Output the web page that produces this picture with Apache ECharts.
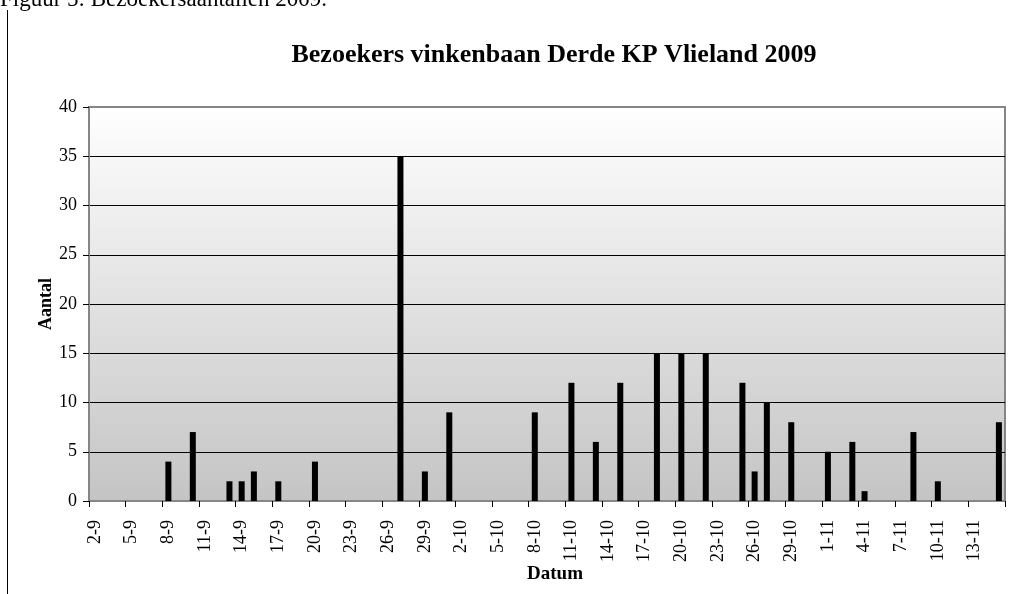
<!DOCTYPE html>
<html>
<head>
<meta charset="utf-8">
<script src="https://cdn.jsdelivr.net/npm/echarts@6/dist/echarts.min.js"></script>
<style>
  html, body { margin: 0; padding: 0; background: #fff; }
  #chart { width: 1030px; height: 594px; }
</style>
</head>
<body>
<div id="chart"></div>
<script>
'use strict';

// dagen van 2-9 t/m 15-11
const datums = [
  '2-9', '3-9', '4-9', '5-9', '6-9', '7-9', '8-9', '9-9', '10-9', '11-9',
  '12-9', '13-9', '14-9', '15-9', '16-9', '17-9', '18-9', '19-9', '20-9', '21-9',
  '22-9', '23-9', '24-9', '25-9', '26-9', '27-9', '28-9', '29-9', '30-9', '1-10',
  '2-10', '3-10', '4-10', '5-10', '6-10', '7-10', '8-10', '9-10', '10-10', '11-10',
  '12-10', '13-10', '14-10', '15-10', '16-10', '17-10', '18-10', '19-10', '20-10', '21-10',
  '22-10', '23-10', '24-10', '25-10', '26-10', '27-10', '28-10', '29-10', '30-10', '31-10',
  '1-11', '2-11', '3-11', '4-11', '5-11', '6-11', '7-11', '8-11', '9-11', '10-11',
  '11-11', '12-11', '13-11', '14-11', '15-11'
];

// telgegevens, alleen de dagen met bezoekers
const telDagen = ['8-9', '10-9', '13-9', '14-9', '15-9', '17-9', '20-9', '27-9', '29-9', '1-10',
  '8-10', '11-10', '13-10', '15-10', '18-10', '20-10', '22-10', '25-10', '26-10', '27-10',
  '29-10', '1-11', '3-11', '4-11', '8-11', '10-11', '15-11'];
const aantallen = [4, 7, 2, 2, 3, 2, 4, 35, 3, 9,
  9, 12, 6, 12, 15, 15, 15, 12, 3, 10,
  8, 5, 6, 1, 7, 2, 8];

const yTicks = ['0', '5', '10', '15', '20', '25', '30', '35', '40'];

const waarden = datums.map(function (d) {
  const i = telDagen.indexOf(d);
  return i >= 0 ? aantallen[i] : null;
});

const serif = '"Liberation Serif", "DejaVu Serif", serif';

const chart = echarts.init(document.getElementById('chart'), null, { renderer: 'canvas' });

const option = {
  backgroundColor: '#fff',
  animation: false,
  title: {
    text: 'Bezoekers vinkenbaan Derde KP Vlieland 2009',
    left: 549,
    textAlign: 'center',
    top: 37,
    textStyle: { fontFamily: serif, fontSize: 26, fontWeight: 'bold', color: '#000' }
  },
  graphic: [
    {
      type: 'text',
      left: 0,
      top: -12,
      style: { text: 'Figuur 5: Bezoekersaantallen 2009.', font: '23px ' + serif, fill: '#000' }
    },
    {
      type: 'line',
      shape: { x1: 7.5, y1: 10, x2: 7.5, y2: 594 },
      style: { stroke: '#000', lineWidth: 1 }
    }
  ],
  grid: {
    left: 89,
    right: 25,
    top: 107,
    bottom: 93,
    show: true,
    borderColor: '#868686',
    borderWidth: 2,
    backgroundColor: {
      type: 'linear', x: 0, y: 0, x2: 0, y2: 1,
      colorStops: [
        { offset: 0, color: '#ffffff' },
        { offset: 1, color: '#c4c4c4' }
      ]
    }
  },
  xAxis: {
    type: 'category',
    data: datums,
    name: 'Datum',
    nameLocation: 'middle',
    nameGap: 64,
    nameMoveOverlap: false,
    nameTextStyle: { fontFamily: serif, fontSize: 19, fontWeight: 'bold', color: '#000', padding: [0, 0, 0, 16] },
    axisLine: { show: true, lineStyle: { color: '#868686', width: 2 } },
    axisTick: { show: true, interval: 2, length: 6, lineStyle: { color: '#000' } },
    axisLabel: {
      interval: 2,
      rotate: 90,
      margin: 19,
      fontFamily: serif,
      fontSize: 18,
      color: '#000'
    },
    splitLine: { show: false }
  },
  yAxis: {
    type: 'value',
    min: 0,
    max: 40,
    interval: 5,
    name: 'Aantal',
    nameLocation: 'middle',
    nameRotate: 90,
    nameGap: 34,
    nameMoveOverlap: false,
    nameTextStyle: { fontFamily: serif, fontSize: 18, fontWeight: 'bold', color: '#000' },
    axisLine: { show: true, lineStyle: { color: '#868686', width: 2 } },
    axisTick: { show: true, length: 6, lineStyle: { color: '#000' } },
    axisLabel: {
      margin: 12,
      fontFamily: serif,
      fontSize: 18,
      color: '#000',
      formatter: function (v) { return yTicks[v / 5]; }
    },
    splitLine: { show: true, showMinLine: false, showMaxLine: false, lineStyle: { color: '#000', width: 1 } }
  },
  series: [{
    type: 'bar',
    data: waarden,
    barWidth: 6,
    itemStyle: { color: '#000' }
  }]
};

option && chart.setOption(option);
</script>
</body>
</html>
